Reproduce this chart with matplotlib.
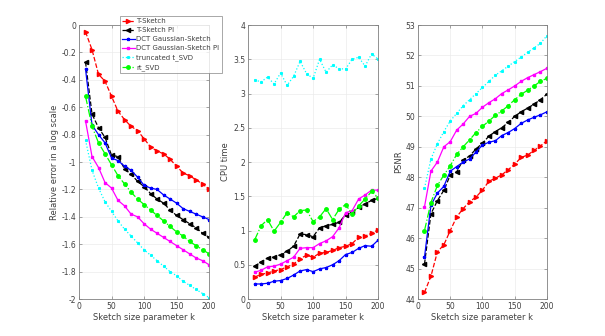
import numpy as np
import matplotlib
matplotlib.use('Agg')
import matplotlib.pyplot as plt

# Sketch size parameter
k = np.arange(10, 201, 10)

labels = ['T-Sketch', 'T-Sketch PI', 'DCT Gaussian-Sketch',
          'DCT Gaussian-Sketch PI', 'truncated t_SVD', 'rt_SVD']

# Relative error (log scale)
err_tsketch = [-0.05, -0.18, -0.36, -0.41, -0.52, -0.63, -0.69, -0.74, -0.77, -0.83,
               -0.89, -0.92, -0.94, -0.98, -1.03, -1.08, -1.10, -1.13, -1.16, -1.20]
err_tsketch_pi = [-0.27, -0.65, -0.75, -0.82, -0.95, -0.96, -1.05, -1.09, -1.14, -1.18,
                  -1.23, -1.27, -1.30, -1.35, -1.39, -1.42, -1.45, -1.48, -1.52, -1.55]
err_dct = [-0.32, -0.73, -0.80, -0.86, -0.97, -0.99, -1.03, -1.06, -1.11, -1.17,
           -1.19, -1.20, -1.24, -1.27, -1.30, -1.34, -1.36, -1.38, -1.40, -1.42]
err_dct_pi = [-0.70, -0.96, -1.04, -1.15, -1.19, -1.28, -1.32, -1.38, -1.40, -1.45,
              -1.49, -1.52, -1.55, -1.58, -1.61, -1.64, -1.67, -1.70, -1.72, -1.75]
err_tsvd = [-0.84, -1.06, -1.19, -1.29, -1.36, -1.43, -1.49, -1.54, -1.59, -1.64,
            -1.68, -1.72, -1.76, -1.80, -1.83, -1.87, -1.90, -1.93, -1.96, -1.99]
err_rtsvd = [-0.52, -0.74, -0.86, -0.94, -1.02, -1.10, -1.16, -1.22, -1.27, -1.31,
             -1.35, -1.39, -1.43, -1.47, -1.51, -1.54, -1.58, -1.61, -1.64, -1.67]

# CPU time
cpu_tsketch = [0.32, 0.36, 0.38, 0.41, 0.43, 0.47, 0.51, 0.59, 0.64, 0.61,
               0.67, 0.68, 0.71, 0.75, 0.77, 0.81, 0.90, 0.92, 0.96, 1.01]
cpu_tsketch_pi = [0.48, 0.54, 0.60, 0.61, 0.65, 0.70, 0.77, 0.95, 0.94, 0.91,
                  1.04, 1.07, 1.09, 1.12, 1.23, 1.27, 1.34, 1.39, 1.44, 1.47]
cpu_dct = [0.22, 0.22, 0.23, 0.26, 0.27, 0.30, 0.35, 0.41, 0.43, 0.40,
           0.44, 0.46, 0.50, 0.56, 0.65, 0.68, 0.74, 0.78, 0.77, 0.86]
cpu_dct_pi = [0.39, 0.42, 0.47, 0.48, 0.51, 0.56, 0.61, 0.74, 0.75, 0.75,
              0.81, 0.85, 0.91, 1.04, 1.26, 1.29, 1.46, 1.52, 1.59, 1.59]
cpu_tsvd = [3.20, 3.17, 3.24, 3.14, 3.30, 3.12, 3.25, 3.47, 3.29, 3.22,
            3.50, 3.31, 3.42, 3.36, 3.36, 3.50, 3.53, 3.40, 3.58, 3.50]
cpu_rtsvd = [0.86, 1.07, 1.16, 0.99, 1.12, 1.26, 1.20, 1.29, 1.30, 1.13,
             1.20, 1.32, 1.16, 1.31, 1.38, 1.24, 1.36, 1.46, 1.57, 1.48]

# PSNR
psnr_tsketch = [44.22, 44.75, 45.55, 45.78, 46.25, 46.70, 46.97, 47.20, 47.35, 47.58,
                47.87, 47.97, 48.08, 48.25, 48.43, 48.65, 48.73, 48.88, 49.03, 49.20]
psnr_tsketch_pi = [45.15, 46.80, 47.23, 47.57, 48.07, 48.18, 48.57, 48.70, 48.93, 49.12,
                   49.35, 49.50, 49.63, 49.80, 50.00, 50.15, 50.27, 50.40, 50.55, 50.73]
psnr_dct = [45.38, 47.08, 47.48, 47.70, 48.20, 48.35, 48.50, 48.60, 48.83, 49.06,
            49.15, 49.20, 49.37, 49.47, 49.60, 49.77, 49.88, 49.97, 50.05, 50.15]
psnr_dct_pi = [47.03, 48.20, 48.50, 49.00, 49.17, 49.55, 49.75, 50.00, 50.10, 50.30,
               50.45, 50.58, 50.75, 50.87, 51.00, 51.15, 51.27, 51.37, 51.47, 51.58]
psnr_tsvd = [47.64, 48.60, 49.10, 49.50, 49.85, 50.10, 50.35, 50.55, 50.75, 50.95,
             51.15, 51.35, 51.50, 51.65, 51.80, 51.95, 52.10, 52.25, 52.40, 52.65]
psnr_rtsvd = [46.25, 47.17, 47.73, 48.07, 48.38, 48.75, 49.00, 49.23, 49.47, 49.67,
              49.85, 50.03, 50.18, 50.35, 50.55, 50.72, 50.86, 51.00, 51.15, 51.25]

styles = [
    dict(color='#ff0000', ls='--', marker='>', ms=3),
    dict(color='#000000', ls='--', marker='<', ms=3),
    dict(color='#0000ff', ls='-', marker='*', ms=2.3),
    dict(color='#ff00ff', ls='-', marker='s', ms=1.6),
    dict(color='#00ffff', ls=':', marker='s', ms=1.2),
    dict(color='#00ff00', ls='-.', marker='o', ms=2.5),
]

plt.rcParams['font.family'] = 'DejaVu Sans'
plt.rcParams['font.size'] = 5.5

fig = plt.figure(figsize=(6.05, 3.36), dpi=100)
ax1 = fig.add_axes([0.1306, 0.110, 0.215, 0.8155])
ax2 = fig.add_axes([0.410, 0.110, 0.215, 0.8155])
ax3 = fig.add_axes([0.691, 0.110, 0.213, 0.8155])


def draw_panel(ax, series, ylim, yticks, ylabel):
    lines = []
    for y, st in zip(series, styles):
        ln, = ax.plot(k, y, lw=0.9, **st)
        lines.append(ln)
    ax.set_xlim(0, 200)
    ax.set_ylim(*ylim)
    ax.set_xticks([0, 50, 100, 150, 200])
    ax.set_yticks(yticks)
    ax.set_xlabel('Sketch size parameter k', fontsize=6, color='#404040', labelpad=1.5)
    ax.set_ylabel(ylabel, fontsize=6, color='#404040', labelpad=2)
    ax.grid(True, color='#ebebeb', lw=0.5)
    ax.tick_params(direction='in', length=2, width=0.5, color='#808080',
                   labelcolor='#404040', labelsize=5.5, pad=2, top=True, right=True)
    for s in ax.spines.values():
        s.set_linewidth(0.6)
        s.set_color('#808080')
    return lines


lines = draw_panel(ax1, [err_tsketch, err_tsketch_pi, err_dct, err_dct_pi, err_tsvd, err_rtsvd],
                   (-2, 0), np.arange(-2, 0.01, 0.2), 'Relative error in a log scale')
ax1.set_yticklabels(['-2', '-1.8', '-1.6', '-1.4', '-1.2', '-1', '-0.8', '-0.6',
                     '-0.4', '-0.2', '0'])
draw_panel(ax2, [cpu_tsketch, cpu_tsketch_pi, cpu_dct, cpu_dct_pi, cpu_tsvd, cpu_rtsvd],
           (0, 4), np.arange(0, 4.01, 0.5), 'CPU time')
ax2.set_yticklabels(['0', '0.5', '1', '1.5', '2', '2.5', '3', '3.5', '4'])
draw_panel(ax3, [psnr_tsketch, psnr_tsketch_pi, psnr_dct, psnr_dct_pi, psnr_tsvd, psnr_rtsvd],
           (44, 53), np.arange(44, 54, 1), 'PSNR')

leg = fig.legend(lines, labels, loc='upper left', bbox_to_anchor=(120 / 605, 1 - 16 / 336),
                 fontsize=5, frameon=True, fancybox=False, edgecolor='#808080',
                 borderpad=0.3, labelspacing=0.45, handlelength=1.8, handletextpad=0.25,
                 borderaxespad=0)
leg.get_frame().set_linewidth(0.6)
for t in leg.get_texts():
    t.set_color('#404040')

fig.savefig('out.png', dpi=100)
